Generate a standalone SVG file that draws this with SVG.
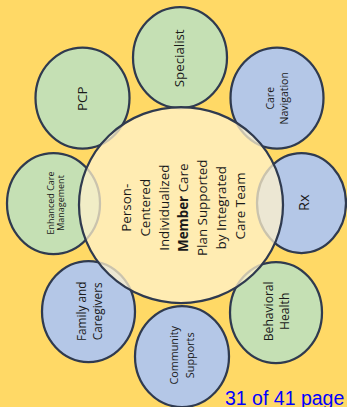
<svg xmlns="http://www.w3.org/2000/svg" width="347" height="407" viewBox="0 0 347 407">
<style>
.bg{fill:#FFD966}
.n{stroke:#2F3A4F;stroke-width:2.25}
.g{fill:#C5E0B4}
.b{fill:#B4C7E7}
.c{fill:#FFF2CC;fill-opacity:0.75;stroke:#2F3A4F;stroke-width:2.25}
text{font-family:"Open Sans","Liberation Sans",sans-serif;fill:#1A1A1A;text-anchor:middle}
.pg{font-family:"Liberation Sans",Arial,sans-serif;fill:#0000FF;text-anchor:start;font-size:19.5px}
</style>
<rect class="bg" x="0" y="0" width="347" height="407"/>
<g id="connectors"/>
<g id="specialist">
<ellipse class="n g" cx="180" cy="57.5" rx="47" ry="50.5"/>
<text transform="translate(180,58.3) rotate(-90)" font-size="13.3"><tspan x="0" y="4">Specialist</tspan></text>
</g>
<g id="pcp">
<ellipse class="n g" cx="82.5" cy="98" rx="47" ry="50.5"/>
<text transform="translate(82.5,98.7) rotate(-90)" font-size="13.4"><tspan x="0" y="4.2">PCP</tspan></text>
</g>
<g id="care-navigation">
<ellipse class="n b" cx="277" cy="98" rx="46.5" ry="50.5"/>
<text transform="translate(277,98.3) rotate(-90)" font-size="10.5"><tspan x="0" y="-3">Care</tspan><tspan x="0" y="10.5">Navigation</tspan></text>
</g>
<g id="enhanced-care-management">
<ellipse class="n g" cx="53.5" cy="203.5" rx="46.5" ry="50.5"/>
<text transform="translate(53.5,203) rotate(-90)" font-size="9"><tspan x="0" y="0">Enhanced Care</tspan><tspan x="0" y="10.5">Management</tspan></text>
</g>
<g id="rx">
<ellipse class="n b" cx="301.5" cy="203" rx="44.5" ry="50"/>
<text transform="translate(301.5,202.8) rotate(-90)" font-size="14.5"><tspan x="0" y="7.8">Rx</tspan></text>
</g>
<g id="family-caregivers">
<ellipse class="n b" cx="88.5" cy="311.5" rx="46.5" ry="50.5"/>
<text transform="translate(88.5,311.3) rotate(-90)" font-size="11.8"><tspan x="0" y="-2.8">Family and</tspan><tspan x="0" y="13">Caregivers</tspan></text>
</g>
<g id="community-supports">
<ellipse class="n b" cx="182" cy="356.5" rx="47" ry="50.5"/>
<text transform="translate(182,355.3) rotate(-90)" font-size="10.8"><tspan x="0" y="-4.3">Community</tspan><tspan x="0" y="12.4">Supports</tspan></text>
</g>
<g id="behavioral-health">
<ellipse class="n g" cx="276" cy="312.5" rx="46" ry="50.5"/>
<text transform="translate(276,311.3) rotate(-90)" font-size="12.1"><tspan x="0" y="-3.5">Behavioral</tspan><tspan x="0" y="13">Health</tspan></text>
</g>
<g id="center">
<ellipse class="c" cx="181" cy="205" rx="102" ry="98"/>
<text transform="translate(181,206) rotate(-90)" font-size="13.4">
<tspan x="0" y="-50.5">Person-</tspan>
<tspan x="0" y="-31.5">Centered</tspan>
<tspan x="0" y="-12.5">Individualized</tspan>
<tspan x="0" y="6.5"><tspan font-weight="bold">Member</tspan> Care</tspan>
<tspan x="0" y="25.5">Plan Supported</tspan>
<tspan x="0" y="44.5">by Integrated</tspan>
<tspan x="0" y="63.5">Care Team</tspan>
</text>
</g>
<text class="pg" x="225" y="404.5">31 of 41 page</text>
</svg>
